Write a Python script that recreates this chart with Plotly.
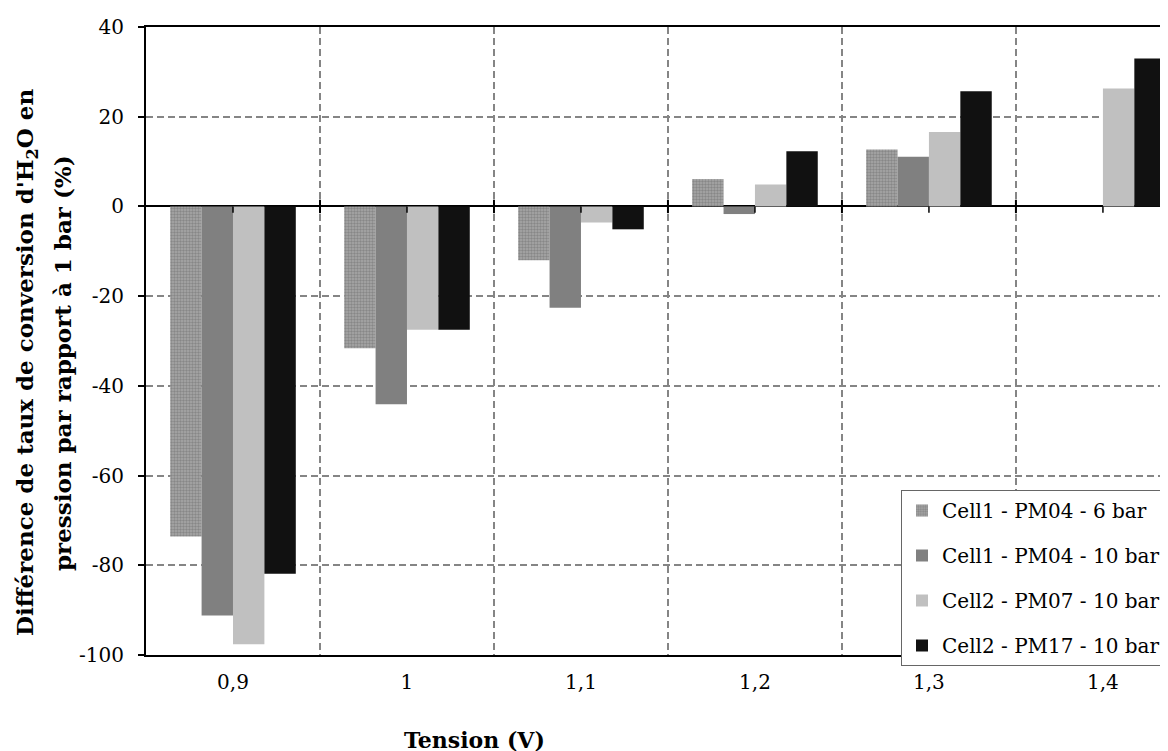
import plotly.graph_objects as go

# ---- data ----
categories = ["0,9", "1", "1,1", "1,2", "1,3", "1,4"]
series_names = [
    "Cell1 - PM04 - 6 bar",
    "Cell1 - PM04 - 10 bar",
    "Cell2 - PM07 - 10 bar",
    "Cell2 - PM17 - 10 bar",
]
cell1_pm04_6bar = [-73.6, -31.6, -12.0, 6.1, 12.7, None]
cell1_pm04_10bar = [-91.2, -44.1, -22.6, -1.7, 11.1, None]
cell2_pm07_10bar = [-97.6, -27.5, -3.6, 4.9, 16.6, 26.3]
cell2_pm17_10bar = [-81.9, -27.5, -5.1, 12.3, 25.7, 33.0]
y_tick_values = [-100, -80, -60, -40, -20, 0, 20, 40]
y_tick_labels = ["-100", "-80", "-60", "-40", "-20", "0", "20", "40"]

FONT = "DejaVu Serif"
x_idx = list(range(len(categories)))

fig = go.Figure()
styles = [
    dict(color="#9a9a9a", pattern=dict(shape=".", fgcolor="#666666", bgcolor="#a8a8a8", size=3, solidity=0.5)),
    dict(color="#808080"),
    dict(color="#c0c0c0"),
    dict(color="#111111"),
]
all_series = [cell1_pm04_6bar, cell1_pm04_10bar, cell2_pm07_10bar, cell2_pm17_10bar]
for name, vals, st in zip(series_names, all_series, styles):
    fig.add_trace(go.Bar(
        x=x_idx, y=vals, name=name, legendgroup=name,
        marker=dict(line=dict(width=0), **st),
    ))

shapes = []
for i in x_idx:
    shapes.append(dict(type="line", xref="x", yref="y", x0=i, x1=i, y0=0, y1=-1.4,
                       line=dict(color="black", width=1.5), layer="above"))
for i in x_idx[:-1]:
    shapes.append(dict(type="line", xref="x", yref="y", x0=i + 0.5, x1=i + 0.5, y0=1.5, y1=-1.5,
                       line=dict(color="black", width=2), layer="above"))

L, R, T, B = 138, 0, 19, 104
W, H = 1168, 751
pw = W - L - R
ph = H - T - B

def px_x(p):
    return (p - L) / pw

def px_y(p):
    return (H - B - p) / ph

fig.update_layout(
    width=W, height=H,
    margin=dict(l=L, r=R, t=T, b=B, pad=0, autoexpand=False),
    paper_bgcolor="white", plot_bgcolor="white",
    font=dict(family=FONT, size=20, color="black"),
    barmode="group", bargap=0.278, bargroupgap=0,
    showlegend=True,
    legend=dict(
        x=px_x(893), y=px_y(482), xanchor="left", yanchor="top",
        bgcolor="white", bordercolor="#666666", borderwidth=1,
        font=dict(family=FONT, size=20, color="black"),
        tracegroupgap=16, traceorder="grouped",
    ),
    xaxis=dict(
        range=[-0.5, 5.42], tickmode="array", tickvals=x_idx, ticktext=categories,
        showgrid=False, zeroline=False,
        minor=dict(tickmode="linear", tick0=0.5, dtick=1, showgrid=True,
                   gridcolor="#858585", griddash="7px,4px", gridwidth=1.5, ticks=""),
        showline=True, mirror=True, linecolor="black", linewidth=2,
        ticks="", tickfont=dict(family=FONT, size=20), ticklabelstandoff=8,
    ),
    yaxis=dict(
        range=[-100, 40], tickmode="array", tickvals=y_tick_values, ticktext=y_tick_labels,
        showgrid=True, gridcolor="#858585", griddash="7px,4px", gridwidth=1.5,
        zeroline=True, zerolinecolor="black", zerolinewidth=2,
        showline=True, linecolor="black", linewidth=2,
        ticks="outside", ticklen=6, tickcolor="black", tickwidth=1.5,
        tickfont=dict(family=FONT, size=20), ticklabelstandoff=10,
    ),
    shapes=shapes,
    annotations=[
        dict(text="<b>Différence de taux de conversion d'H<sub>2</sub>O en</b>",
             xref="paper", yref="paper", x=px_x(18), y=px_y(355), textangle=-90,
             xanchor="center", yanchor="middle", showarrow=False,
             font=dict(family=FONT, size=23, color="black")),
        dict(text="<b>pression par rapport à 1 bar (%)</b>",
             xref="paper", yref="paper", x=px_x(54), y=px_y(355), textangle=-90,
             xanchor="center", yanchor="middle", showarrow=False,
             font=dict(family=FONT, size=23, color="black")),
        dict(text="<b>Tension (V)</b>",
             xref="paper", yref="paper", x=px_x(466), y=px_y(732),
             xanchor="center", yanchor="middle", showarrow=False,
             font=dict(family=FONT, size=22, color="black")),
    ],
)

fig.write_html("out.html")
